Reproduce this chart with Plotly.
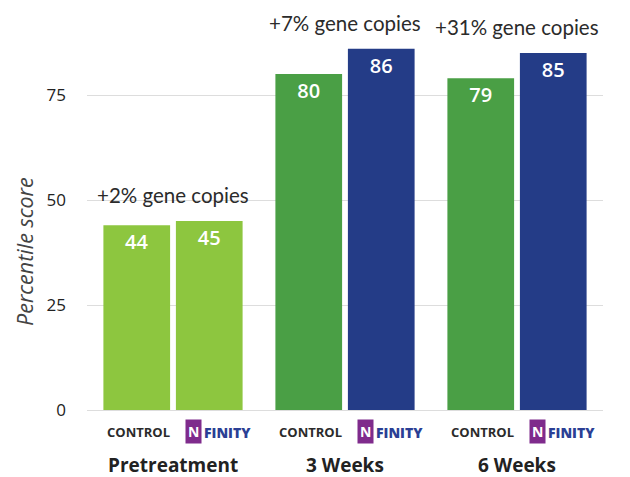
import plotly.graph_objects as go

groups = ["Pretreatment", "3 Weeks", "6 Weeks"]
control = [44, 80, 79]
nfinity = [45, 86, 85]
gains = ["+2% gene copies", "+7% gene copies", "+31% gene copies"]
control_colors = ["#8dc63f", "#4a9f45", "#4a9f45"]
nfinity_colors = ["#8dc63f", "#243c87", "#243c87"]
yticks = [0, 25, 50, 75]

FONT = "Open Sans"
TFONT = "Lato"
BARGAP = 0.157
GROUPGAP = 0.08

fig = go.Figure()
for vals, cols, nm in [(control, control_colors, "CONTROL"), (nfinity, nfinity_colors, "NFINITY")]:
    fig.add_trace(go.Bar(x=groups, y=vals, marker=dict(color=cols, line=dict(width=0)),
                         text=vals, textposition="inside", insidetextanchor="end",
                         textfont=dict(family=FONT, size=20, color="white", weight=600),
                         name=nm))

off = (1 - BARGAP) / 4
for i, g in enumerate(groups):
    top = max(control[i], nfinity[i])
    fig.add_annotation(x=i, y=top, xref="x", yref="y", text=gains[i], showarrow=False,
                       yanchor="bottom", yshift=12, font=dict(family=TFONT, size=20.5, color="#2b2b2b"))
    fig.add_annotation(x=i - off, y=0, xref="x", yref="y", text="CONTROL", showarrow=False,
                       yanchor="middle", yshift=-22, xshift=2, font=dict(family=FONT, size=13, color="#2b2b2b", weight=700))
    fig.add_annotation(x=i + off, y=0, xref="x", yref="y", text="<b>N</b>", showarrow=False,
                       yanchor="middle", yshift=-21, xshift=-16, bgcolor="#7f2b8c",
                       font=dict(family=FONT, size=14, color="white"), borderpad=2)
    fig.add_annotation(x=i + off, y=0, xref="x", yref="y", text="FINITY", showarrow=False,
                       yanchor="middle", yshift=-22, xshift=18, font=dict(family=FONT, size=14, color="#2b3f95", weight=800))
    fig.add_annotation(x=i, y=0, xref="x", yref="y", text=g, showarrow=False,
                       yanchor="middle", yshift=-55, font=dict(family=FONT, size=19, color="#222", weight=700))

fig.add_annotation(x=-63 / 516, y=(410 - 252) / 399, xref="paper", yref="paper",
                   xanchor="center", yanchor="middle",
                   text="<i>Percentile score</i>", showarrow=False, textangle=-90,
                   font=dict(family=FONT, size=21.5, color="#444"))

fig.update_layout(
    width=622, height=469,
    margin=dict(l=79, r=27, t=3, b=67),
    paper_bgcolor="white", plot_bgcolor="white",
    barmode="group", bargap=BARGAP, bargroupgap=GROUPGAP,
    showlegend=False,
    font=dict(family=FONT, color="#222"),
    xaxis=dict(showticklabels=False, automargin=False, showgrid=False, showline=False, ticks=""),
    yaxis=dict(range=[0, 95], tickvals=yticks, showgrid=True, gridcolor="#dddddd", gridwidth=1,
               zeroline=True, zerolinecolor="#dddddd", zerolinewidth=1, automargin=False,
               tickfont=dict(family=FONT, size=17, color="#222"), ticklabelstandoff=20),
)

fig.write_html("out.html")
